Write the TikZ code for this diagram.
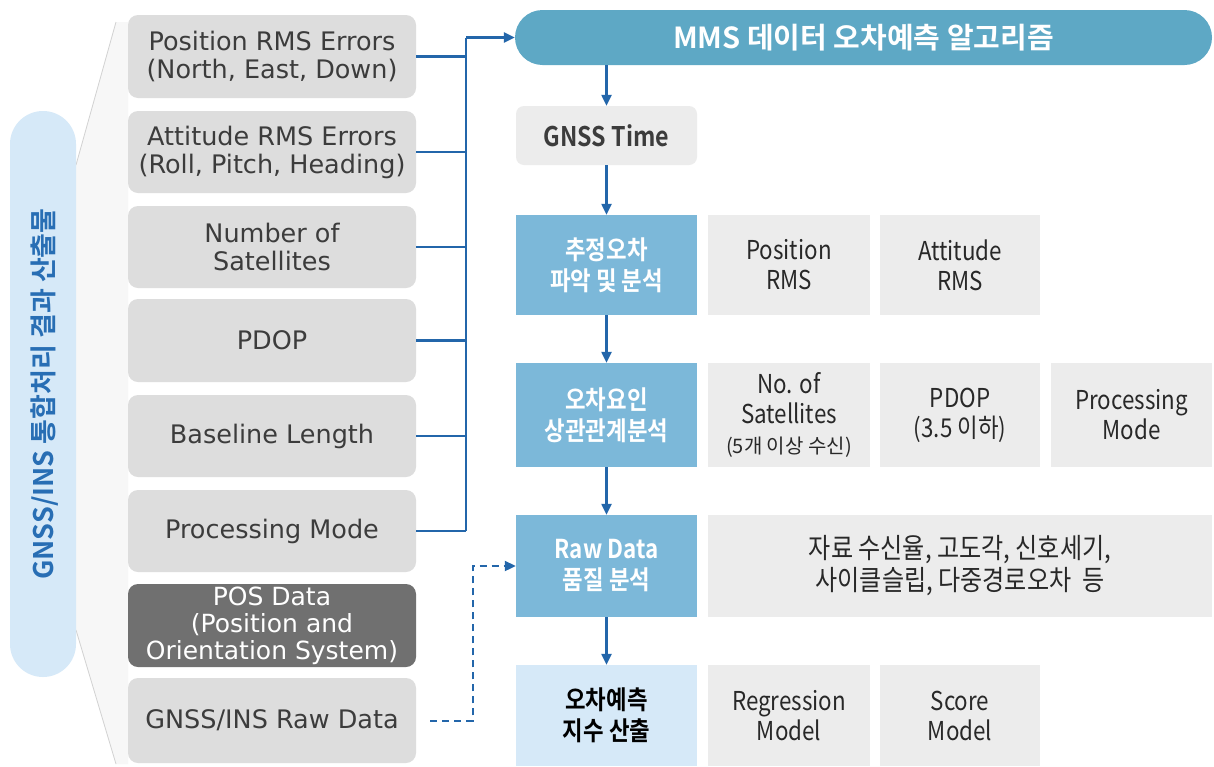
\documentclass[tikz,border=0pt]{standalone}
\usepackage{fontspec}
\setmainfont{Noto Sans CJK KR}
\newfontfamily\lfont{DejaVu Sans}
\newfontfamily\rfont[FakeStretch=0.86,BoldFont={Noto Sans CJK KR Bold}]{Noto Sans CJK KR}
\newfontfamily\hfont{Noto Sans CJK KR}
\newfontfamily\hfontb{Noto Sans CJK KR Bold}
\usetikzlibrary{arrows.meta}
\definecolor{lgray}{RGB}{221,221,221}
\definecolor{rgray}{RGB}{236,236,236}
\definecolor{dgray}{RGB}{112,112,112}
\definecolor{ltext}{RGB}{60,60,60}
\definecolor{rtext}{RGB}{40,40,40}
\definecolor{hdrblue}{RGB}{94,168,197}
\definecolor{midblue}{RGB}{124,184,217}
\definecolor{paleblue}{RGB}{214,233,248}
\definecolor{connblue}{RGB}{35,102,170}
\definecolor{pilltext}{RGB}{40,110,180}
\definecolor{funnel}{RGB}{247,247,247}
\definecolor{funnelline}{RGB}{210,210,210}
\tikzset{
  lbox/.style={fill=lgray, rounded corners=10pt, minimum width=288pt, text=ltext, align=center,
    font=\lfont\fontsize{25.5}{28}\selectfont, inner sep=0pt},
  rbox/.style={fill=rgray, minimum width=162pt, text=rtext, align=center,
    font=\rfont\fontsize{26}{30}\selectfont, inner sep=0pt},
  bbox/.style={fill=midblue, minimum width=181pt, text=white, align=center,
    font=\rfont\bfseries\fontsize{26}{31}\selectfont, inner sep=0pt},
  conn/.style={draw=connblue, line width=2.3pt},
  arr/.style={conn, -{Triangle[length=11pt,width=10pt]}},
  dasharr/.style={conn, line width=2pt, dashed, dash pattern=on 7pt off 5pt, -{Triangle[length=11pt,width=10pt]}}
}
\begin{document}
\begin{tikzpicture}[x=1pt,y=-1pt]
\useasboundingbox (0,0) rectangle (1214,766);
\fill[white] (0,0) rectangle (1214,766);
% funnel
\fill[funnel] (76,165) -- (116,22) -- (128,22) -- (128,764) -- (116,764) -- (76,630) -- cycle;
\draw[funnelline, line width=0.8pt] (76,165) -- (116,22);
\draw[funnelline, line width=0.8pt] (76,630) -- (116,764);
% pill
\node[fill=paleblue, rounded corners=33pt, minimum width=66pt, minimum height=566pt, inner sep=0pt] (pill) at (43,394) {};
\node[rotate=90, text=pilltext, font=\hfontb\fontsize{27}{30}\selectfont] (pilltxt) at (45,394) {GNSS/INS 통합처리 결과 산출물};
% left column
\node[lbox, minimum height=83pt] (p1) at (272,56.5) {Position RMS Errors\\(North, East, Down)};
\node[lbox, minimum height=82pt] (p2) at (272,152) {Attitude RMS Errors\\(Roll, Pitch, Heading)};
\node[lbox, minimum height=82pt] (p3) at (272,247) {Number of\\Satellites};
\node[lbox, minimum height=83pt] (p4) at (272,340.5) {PDOP};
\node[lbox, minimum height=82pt] (p5) at (272,436) {Baseline Length};
\node[lbox, minimum height=82pt] (p6) at (272,531) {Processing Mode};
\node[lbox, minimum height=83pt, fill=dgray, text=white, font=\lfont\fontsize{25}{27}\selectfont] (p7) at (272,625.5) {POS Data\\(Position and\\Orientation System)};
\node[lbox, minimum height=85pt] (p8) at (272,720.5) {GNSS/INS Raw Data};
% header
\node[fill=hdrblue, rounded corners=27.5pt, minimum width=697pt, minimum height=55pt, inner sep=0pt,
  text=white, font=\hfontb\fontsize{29}{30}\selectfont] (hdr) at (863.5,37.5) {MMS 데이터 오차예측 알고리즘};
% right column
\node[rbox, minimum width=181pt, minimum height=59pt, rounded corners=8pt, font=\rfont\bfseries\fontsize{27}{30}\selectfont, text=ltext] (time) at (606.5,135.5) {GNSS Time};
\node[bbox, minimum height=100pt] (s1) at (606.5,265) {추정오차\\파악 및 분석};
\node[rbox, minimum height=100pt] (s1a) at (789,265) {Position\\RMS};
\node[rbox, minimum width=160pt, minimum height=100pt] (s1b) at (960,265) {Attitude\\RMS};
\node[bbox, minimum height=104pt] (s2) at (606.5,415) {오차요인\\상관관계분석};
\node[rbox, minimum height=104pt] (s2a) at (789,415) {No. of\\Satellites\\{\hfont\fontsize{20}{26}\selectfont (5개 이상 수신)}};
\node[rbox, minimum width=160pt, minimum height=104pt] (s2b) at (960,415) {PDOP\\(3.5 이하)};
\node[rbox, minimum width=161pt, minimum height=104pt] (s2c) at (1131.5,415) {Processing\\Mode};
\node[bbox, minimum height=102pt] (s3) at (606.5,566) {Raw Data\\품질 분석};
\node[rbox, minimum width=504pt, minimum height=102pt, font=\rfont\fontsize{28}{32}\selectfont] (s3a) at (960,566) {자료 수신율, 고도각, 신호세기,\\사이클슬립, 다중경로오차~~등};
\node[bbox, minimum height=101pt, fill=paleblue, text=black] (s4) at (606.5,715.5) {오차예측\\지수 산출};
\node[rbox, minimum height=101pt] (s4a) at (789,715.5) {Regression\\Model};
\node[rbox, minimum width=160pt, minimum height=101pt] (s4b) at (960,715.5) {Score\\Model};
% bus
\coordinate (bustop) at (466,37.5);
\coordinate (busbot) at (466,531);
\foreach \n in {p1,p2,p3,p4,p5,p6} \draw[conn] (\n.east) -- (\n.east -| bustop);
\draw[conn] (busbot) -- (bustop);
\draw[arr] (bustop) -- (hdr.west);
% flow arrows
\draw[arr] (time.north |- hdr.south) -- (time.north);
\draw[arr] (time.south) -- (s1.north);
\draw[arr] (s1.south) -- (s2.north);
\draw[arr] (s2.south) -- (s3.north);
\draw[arr] (s3.south) -- (s4.north);
% dashed
\coordinate (dj) at (473,0);
\draw[dasharr] ([xshift=14pt]p8.east) -| (dj |- s3.west) -- (s3.west);
\end{tikzpicture}
\end{document}
